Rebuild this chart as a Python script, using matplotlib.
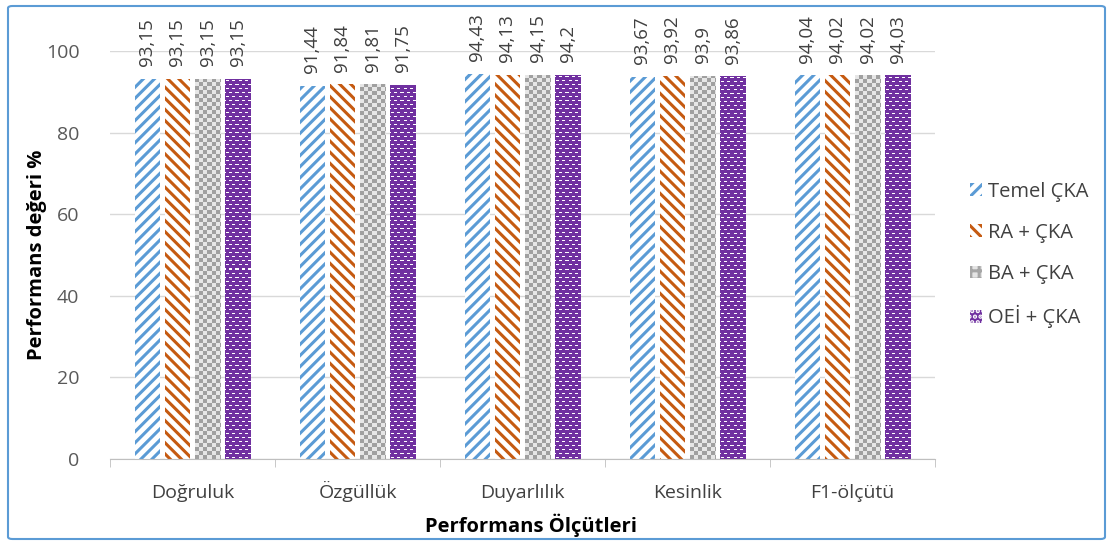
import matplotlib
matplotlib.use("Agg")
import matplotlib.pyplot as plt
import numpy as np
from matplotlib.patches import FancyBboxPatch, Patch
from matplotlib.colors import to_rgb

categories = ["Doğruluk", "Özgüllük", "Duyarlılık", "Kesinlik", "F1-ölçütü"]
series_names = ["Temel ÇKA", "RA + ÇKA", "BA + ÇKA", "OEİ + ÇKA"]
temel = [93.15, 91.44, 94.43, 93.67, 94.04]
ra = [93.15, 91.84, 94.13, 93.92, 94.02]
ba = [93.15, 91.81, 94.15, 93.90, 94.02]
oei = [93.15, 91.75, 94.20, 93.86, 94.03]
label_temel = ["93,15", "91,44", "94,43", "93,67", "94,04"]
label_ra = ["93,15", "91,84", "94,13", "93,92", "94,02"]
label_ba = ["93,15", "91,81", "94,15", "93,9", "94,02"]
label_oei = ["93,15", "91,75", "94,2", "93,86", "94,03"]

plt.rcParams['font.family'] = ['Open Sans', 'DejaVu Sans']
plt.rcParams['hatch.linewidth'] = 2.2

W, H = 1113, 543
fig = plt.figure(figsize=(W/100, H/100), dpi=100)
ax_l, ax_b, ax_w, ax_h = 110, 459, 825, 408
ax = fig.add_axes([ax_l/W, 1-ax_b/H, ax_w/W, ax_h/H])

x = np.arange(len(categories))
w = 0.152
step = 0.182
ncat = len(categories)
px_per_x = ax_w / ncat
px_per_y = ax_h / 100.0

def pattern_image(kind, wpx, hpx):
    img = np.ones((hpx, wpx, 3))
    yy, xx = np.mgrid[0:hpx, 0:wpx]
    if kind == "checker":
        g = np.array(to_rgb("#A0A0A0"))
        l = np.array(to_rgb("#E6E6E6"))
        mask = ((xx // 4) + ((hpx - 1 - yy) // 4)) % 2 == 0
        img[mask] = g
        img[~mask] = l
    else:
        p = np.array(to_rgb("#7030A0"))
        img[:] = p
        yb = (hpx - 1 - yy)
        row = yb // 4
        xs = (xx + (row % 2) * 3) % 6
        mask = (yb % 4 == 1) & (xs >= 1) & (xs <= 3)
        img[mask] = np.array([1.0, 1.0, 1.0])
    return img

styles = [
    dict(facecolor="white", edgecolor="#5B9BD5", hatch="///"),
    dict(facecolor="white", edgecolor="#C55A11", hatch="\\\\\\"),
    dict(facecolor="#A6A6A6", edgecolor="#A6A6A6"),
    dict(facecolor="#7030A0", edgecolor="#7030A0"),
]
kinds = [None, None, "checker", "dots"]
data = [temel, ra, ba, oei]
labels = [label_temel, label_ra, label_ba, label_oei]
for i, (vals, labs, st, kind) in enumerate(zip(data, labels, styles, kinds)):
    pos = x + (i - 1.5) * step
    bars = ax.bar(pos, vals, width=w, linewidth=0, **st)
    for b, lab in zip(bars, labs):
        if kind is not None:
            x0 = b.get_x(); bw = b.get_width(); bh = b.get_height()
            wpx = max(1, int(round(bw * px_per_x)))
            hpx = max(1, int(round(bh * px_per_y)))
            im = ax.imshow(pattern_image(kind, wpx, hpx), extent=(x0, x0 + bw, 0, bh),
                           interpolation="nearest", aspect="auto", zorder=b.get_zorder() + 0.1)
            im.set_clip_path(b)
        ax.annotate(lab, (b.get_x() + b.get_width()/2, b.get_height()),
                    xytext=(0, 9), textcoords="offset points",
                    rotation=90, ha="center", va="bottom", fontsize=13.5,
                    color="#404040", annotation_clip=False)

ax.set_xlim(-0.5, ncat - 0.5)
ax.set_ylim(0, 100)
ax.set_yticks([0, 20, 40, 60, 80, 100])
ax.yaxis.grid(True, color="#D9D9D9", linewidth=1)
ax.set_axisbelow(True)
for s in ["top", "right", "left"]:
    ax.spines[s].set_visible(False)
ax.spines["bottom"].set_color("#BFBFBF")
ax.tick_params(axis="y", length=0, labelsize=14, colors="#595959", pad=22)
ax.set_xticks(x)
ax.set_xticklabels(categories, fontsize=14, color="#404040", va="baseline")
ax.tick_params(axis="x", length=0, pad=28)
ax.set_xticks(np.arange(ncat + 1) - 0.5, minor=True)
ax.tick_params(axis="x", which="minor", length=6, color="#BFBFBF")

fig.text(531/W, 1-532/H, "Performans Ölçütleri", fontsize=14.5, fontweight="bold",
         ha="center", va="baseline", color="black")
fig.text(37/W, 1-255/H, "Performans değeri %", fontsize=14.5, fontweight="bold",
         ha="center", va="center", rotation=90, color="black")

handles = [
    Patch(facecolor="white", edgecolor="#5B9BD5", hatch="///", linewidth=0),
    Patch(facecolor="white", edgecolor="#C55A11", hatch="\\\\\\", linewidth=0),
    Patch(facecolor="#E4E4E4", edgecolor="#A6A6A6", hatch="++", linewidth=0),
    Patch(facecolor="#7030A0", edgecolor="white", hatch="...", linewidth=0),
]
leg = fig.legend(handles, series_names, loc="center left",
                 bbox_to_anchor=(970/W, 1-255/H), frameon=False,
                 fontsize=14.5, handlelength=0.6, handleheight=0.6,
                 handletextpad=0.3, labelspacing=1.05, labelcolor="#404040",
                 borderaxespad=0, borderpad=0)

border = FancyBboxPatch((8/W, 4/H), 1097/W, 533/H,
                        boxstyle="round,pad=0,rounding_size=0.004",
                        transform=fig.transFigure, fill=False,
                        edgecolor="#5B9BD5", linewidth=1.5)
fig.patches.append(border)

fig.savefig("out.png", dpi=100)
